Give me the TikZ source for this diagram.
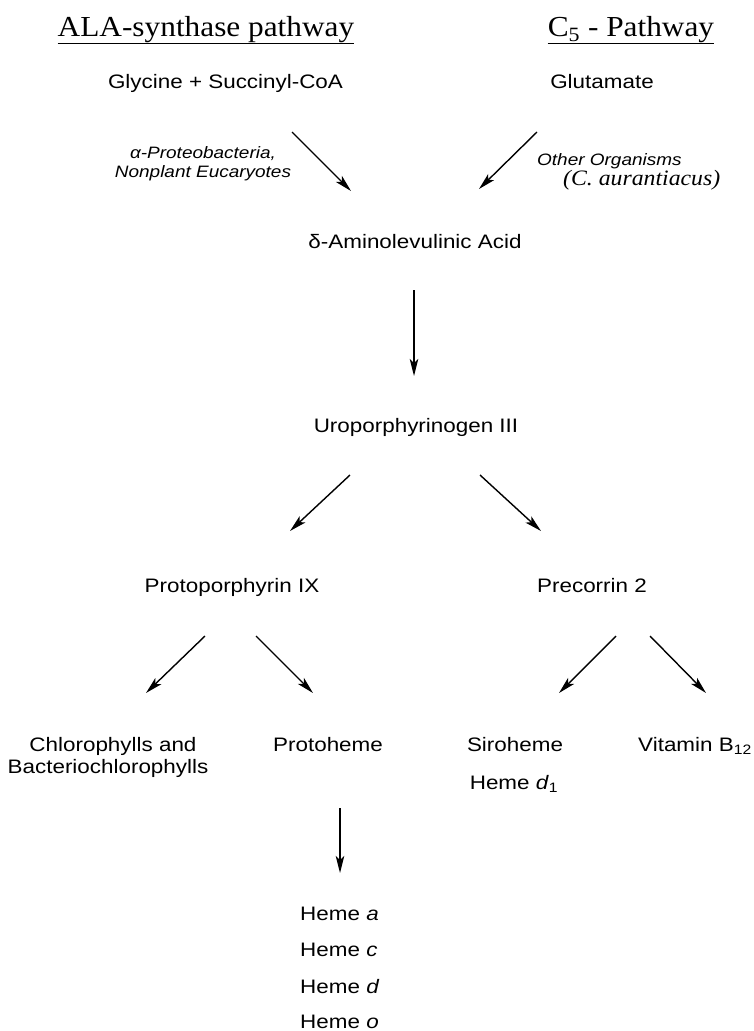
\documentclass[tikz,border=0pt]{standalone}
\usepackage{fontspec}
\setmainfont{Liberation Sans}
\newfontfamily\lsans[FakeStretch=1.15]{Liberation Sans}
\newfontfamily\lserif[FakeStretch=1.08]{Liberation Serif}
\usetikzlibrary{arrows.meta}
\begin{document}
\begin{tikzpicture}[x=1pt,y=-1pt,
  lbl/.style={inner sep=0pt, anchor=base, font=\lsans\fontsize{19.5}{22}\selectfont},
  lblw/.style={lbl, anchor=base west},
  small/.style={inner sep=0pt, anchor=base, font=\lsans\itshape\fontsize{16.5}{18}\selectfont},
  title/.style={inner sep=0pt, anchor=base, font=\lserif\fontsize{29}{32}\selectfont},
  ulin/.style={line width=1.4pt},
  arr/.style={line width=1.4pt, -{Stealth[length=17pt,width=8.5pt,inset=4pt]}}]
\useasboundingbox (0,0) rectangle (754,1031);

% titles
\node[title] (t1) at (206,36.7) {ALA-synthase pathway};
\node[title] (t2) at (631,36.7) {C\textsubscript{5} - Pathway};
\draw[ulin] ([yshift=-6.5pt]t1.base west) -- ([yshift=-6.5pt]t1.base east);
\draw[ulin] ([yshift=-6.5pt]t2.base west) -- ([yshift=-6.5pt]t2.base east);

% substrates
\node[lbl] (gly) at (225.5,88) {Glycine + Succinyl-CoA};
\node[lbl] (glu) at (602,88) {Glutamate};

% organism labels
\node[small] (al1) at (203,158) {α-Proteobacteria,};
\node[small] (al2) at (203,177.5) {Nonplant Eucaryotes};
\node[small, anchor=base west] (ot1) at (537,165) {Other Organisms};
\node[inner sep=0pt, anchor=base west, font=\lserif\itshape\fontsize{22}{24}\selectfont] (ot2) at (563,185) {(C. aurantiacus)};

\coordinate (a1s) at (292,132); \coordinate (a1e) at (351,191);
\coordinate (a2s) at (537,132); \coordinate (a2e) at (479,189);
\draw[arr] (a1s) -- (a1e);
\draw[arr] (a2s) -- (a2e);

% main chain
\node[lbl] (ala) at (415,248) {δ-Aminolevulinic Acid};
\node[lbl] (uro) at (416,432.7) {Uroporphyrinogen III};
\coordinate (a3s) at (414,290); \coordinate (a3e) at (414,376);
\draw[arr] (a3s) -- (a3e);

\coordinate (a4s) at (350,475); \coordinate (a4e) at (290,531);
\coordinate (a5s) at (480,475); \coordinate (a5e) at (541,531);
\draw[arr] (a4s) -- (a4e);
\draw[arr] (a5s) -- (a5e);

\node[lbl] (pro) at (232,592) {Protoporphyrin IX};
\node[lbl] (pre) at (592,592) {Precorrin 2};

\coordinate (a6s) at (205,636); \coordinate (a6e) at (146,693);
\coordinate (a7s) at (256,636); \coordinate (a7e) at (313,693);
\coordinate (a8s) at (616,636); \coordinate (a8e) at (559,693);
\coordinate (a9s) at (650,636); \coordinate (a9e) at (706,693);
\draw[arr] (a6s) -- (a6e);
\draw[arr] (a7s) -- (a7e);
\draw[arr] (a8s) -- (a8e);
\draw[arr] (a9s) -- (a9e);

% products
\node[lbl] (chl1) at (113,751) {Chlorophylls and};
\node[lbl] (chl2) at (108,773) {Bacteriochlorophylls};
\node[lbl] (ph) at (328,751) {Protoheme};
\node[lbl] (sir) at (515,751) {Siroheme};
\node[lbl] (hd1) at (514,789) {Heme \textit{d}\textsubscript{1}};
\node[lbl] (b12) at (695,751) {Vitamin B\textsubscript{12}};

\coordinate (a10s) at (340,808); \coordinate (a10e) at (340,873);
\draw[arr] (a10s) -- (a10e);

\node[lblw] (ha) at (300,920) {Heme \textit{a}};
\node[lblw] (hc) at (300,956.5) {Heme \textit{c}};
\node[lblw] (hd) at (300,993) {Heme \textit{d}};
\node[lblw] (ho) at (300,1028) {Heme \textit{o}};
\end{tikzpicture}
\end{document}
